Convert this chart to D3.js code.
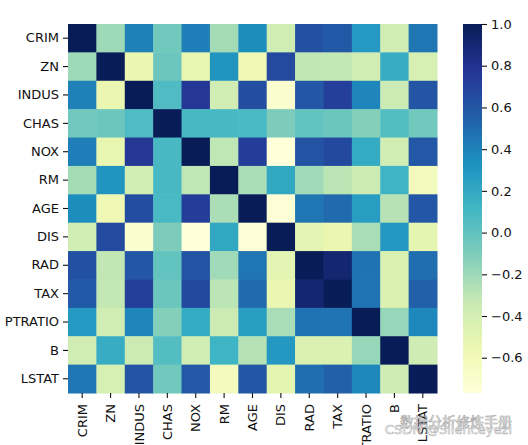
<!DOCTYPE html>
<html>
<head>
<meta charset="utf-8">
<script src="https://cdn.jsdelivr.net/npm/d3@7"></script>
<style>
  html, body { margin: 0; padding: 0; background: #fff; }
  svg { display: block; }
  text { font-family: "DejaVu Sans", sans-serif; }
</style>
</head>
<body>
<div id="chart"></div>
<script>
// ---- data ----
const labels = ["CRIM","ZN","INDUS","CHAS","NOX","RM","AGE","DIS","RAD","TAX","PTRATIO","B","LSTAT"];
const rowCRIM    = [ 1.000,-0.200, 0.407,-0.056, 0.421,-0.219, 0.353,-0.380, 0.626, 0.583, 0.290,-0.385, 0.456];
const rowZN      = [-0.200, 1.000,-0.534,-0.043,-0.517, 0.312,-0.570, 0.664,-0.312,-0.315,-0.392, 0.176,-0.413];
const rowINDUS   = [ 0.407,-0.534, 1.000, 0.063, 0.764,-0.392, 0.645,-0.708, 0.595, 0.721, 0.383,-0.357, 0.604];
const rowCHAS    = [-0.056,-0.043, 0.063, 1.000, 0.091, 0.091, 0.087,-0.099,-0.007,-0.036,-0.122, 0.049,-0.054];
const rowNOX     = [ 0.421,-0.517, 0.764, 0.091, 1.000,-0.302, 0.731,-0.769, 0.611, 0.668, 0.189,-0.380, 0.591];
const rowRM      = [-0.219, 0.312,-0.392, 0.091,-0.302, 1.000,-0.240, 0.205,-0.210,-0.292,-0.356, 0.128,-0.614];
const rowAGE     = [ 0.353,-0.570, 0.645, 0.087, 0.731,-0.240, 1.000,-0.748, 0.456, 0.506, 0.262,-0.274, 0.602];
const rowDIS     = [-0.380, 0.664,-0.708,-0.099,-0.769, 0.205,-0.748, 1.000,-0.495,-0.534,-0.232, 0.292,-0.497];
const rowRAD     = [ 0.626,-0.312, 0.595,-0.007, 0.611,-0.210, 0.456,-0.495, 1.000, 0.910, 0.465,-0.444, 0.489];
const rowTAX     = [ 0.583,-0.315, 0.721,-0.036, 0.668,-0.292, 0.506,-0.534, 0.910, 1.000, 0.461,-0.442, 0.544];
const rowPTRATIO = [ 0.290,-0.392, 0.383,-0.122, 0.189,-0.356, 0.262,-0.232, 0.465, 0.461, 1.000,-0.177, 0.374];
const rowB       = [-0.385, 0.176,-0.357, 0.049,-0.380, 0.128,-0.274, 0.292,-0.444,-0.442,-0.177, 1.000,-0.366];
const rowLSTAT   = [ 0.456,-0.413, 0.604,-0.054, 0.591,-0.614, 0.602,-0.497, 0.489, 0.544, 0.374,-0.366, 1.000];
const colorbarTicks = [-0.6,-0.4,-0.2,0.0,0.2,0.4,0.6,0.8,1.0];
const palette = ["#ffffd9","#edf8b1","#c7e9b4","#7fcdbb","#41b6c4","#1d91c0","#225ea8","#253494","#081d58"];

const matrix = [rowCRIM,rowZN,rowINDUS,rowCHAS,rowNOX,rowRM,rowAGE,rowDIS,rowRAD,rowTAX,rowPTRATIO,rowB,rowLSTAT];
const cells = [];
matrix.forEach((row, i) => row.forEach((v, j) => cells.push({r: labels[i], c: labels[j], v})));

// ---- layout ----
const W = 528, H = 445;
const mLeft = 68, mTop = 24, size = 369;
const cbX = 463, cbW = 19;

const vmin = d3.min(cells, d => d.v), vmax = d3.max(cells, d => d.v);
const color = d3.scaleLinear()
  .domain(palette.map((_, i) => vmin + (vmax - vmin) * i / (palette.length - 1)))
  .range(palette)
  .interpolate(d3.interpolateRgb);

const svg = d3.select("#chart").append("svg").attr("width", W).attr("height", H);

const x = d3.scaleBand().domain(labels).range([mLeft, mLeft + size]);
const y = d3.scaleBand().domain(labels).range([mTop, mTop + size]);

svg.append("g").selectAll("rect").data(cells).join("rect")
  .attr("x", d => x(d.c)).attr("y", d => y(d.r))
  .attr("width", x.bandwidth() + 0.5).attr("height", y.bandwidth() + 0.5)
  .attr("fill", d => color(d.v));

const yAxis = svg.append("g").attr("transform", `translate(${mLeft},0)`)
  .call(d3.axisLeft(y).tickSize(5).tickPadding(4));
yAxis.select(".domain").remove();
yAxis.selectAll("text").attr("font-size", 13).attr("fill", "#111").style("font-family", "DejaVu Sans");
yAxis.selectAll("line").attr("stroke", "#111").attr("stroke-width", 1.1);

const xAxis = svg.append("g").attr("transform", `translate(0,${mTop + size})`)
  .call(d3.axisBottom(x).tickSize(5));
xAxis.select(".domain").remove();
xAxis.selectAll("line").attr("stroke", "#111").attr("stroke-width", 1.1);
xAxis.selectAll("text")
  .attr("font-size", 13).attr("fill", "#111").style("font-family", "DejaVu Sans")
  .attr("transform", "rotate(-90)")
  .attr("x", -11).attr("y", 0).attr("dy", "0.35em")
  .attr("text-anchor", "end");

// ---- colorbar ----
const cbScale = d3.scaleLinear().domain([vmin, vmax]).range([mTop + size, mTop]);
const defs = svg.append("defs");
const grad = defs.append("linearGradient").attr("id", "cbgrad")
  .attr("x1", 0).attr("y1", 1).attr("x2", 0).attr("y2", 0);
d3.range(0, 1.0001, 0.02).forEach(t => {
  grad.append("stop").attr("offset", t).attr("stop-color", color(vmin + (vmax - vmin) * t));
});
svg.append("rect").attr("x", cbX).attr("y", mTop).attr("width", cbW).attr("height", size)
  .attr("fill", "url(#cbgrad)");
const cbAxis = svg.append("g").attr("transform", `translate(${cbX + cbW},0)`)
  .call(d3.axisRight(cbScale).tickValues(colorbarTicks).tickFormat(d3.format(".1f")).tickSize(5).tickPadding(4));
cbAxis.select(".domain").remove();
cbAxis.selectAll("text").attr("font-size", 13).attr("fill", "#111").style("font-family", "DejaVu Sans");
cbAxis.selectAll("line").attr("stroke", "#111").attr("stroke-width", 1.1);

// ---- watermark ----
const wm = svg.append("g").attr("opacity", 0.75);
wm.append("text").attr("x", 512).attr("y", 427).attr("text-anchor", "end")
  .attr("font-size", 14).style("font-family", "Noto Sans CJK SC")
  .attr("fill", "#fff").attr("stroke", "#888").attr("stroke-width", 0.6)
  .text("数据分析修炼手册");
wm.append("text").attr("x", 512).attr("y", 434).attr("text-anchor", "end")
  .attr("font-size", 13).style("font-family", "DejaVu Sans")
  .attr("fill", "#fff").attr("stroke", "#999").attr("stroke-width", 0.6)
  .text("CSDN @Silenceyezi");
</script>
</body>
</html>
